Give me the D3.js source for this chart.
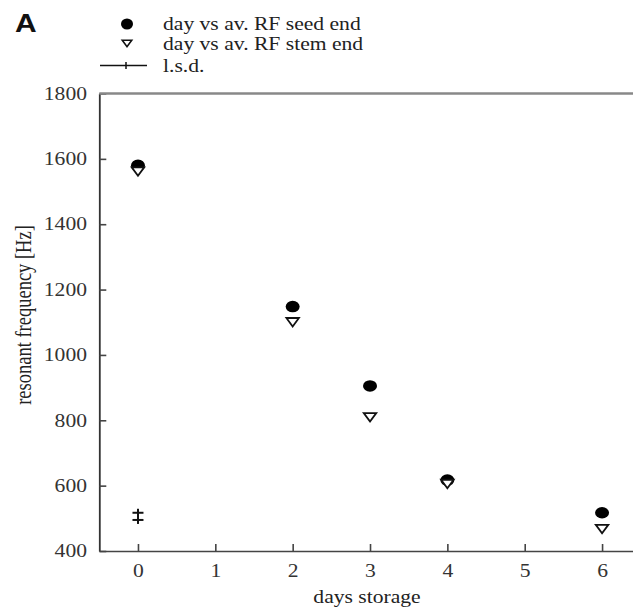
<!DOCTYPE html>
<html>
<head>
<meta charset="utf-8">
<script src="https://cdn.jsdelivr.net/npm/d3@7"></script>
<style>
  html, body { margin: 0; padding: 0; background: #fff; }
  svg { display: block; }
  text { font-family: "Liberation Serif", "Times New Roman", serif; fill: #222; }
</style>
</head>
<body>
<svg></svg>
<script>
// Data
const days = [0, 2, 3, 4, 6]
const seedEnd = [1580, 1148, 905, 617, 517]
const stemEnd = [1561, 1100, 809, 605, 467]
const lsdDay = [0]
const lsdValue = [506]
const lsdHalf = [11]
const xTicks = [0, 1, 2, 3, 4, 5, 6]
const yTicks = [400, 600, 800, 1000, 1200, 1400, 1600, 1800]
const legendLabels = ['day vs av. RF seed end', 'day vs av. RF stem end', 'l.s.d.']

// Initialization
const width = 633
const height = 611
const stretch = 'scale(1.2,1)' // the source picture is wider than tall
const serif = '"Liberation Serif", "Times New Roman", serif'

const svg = d3.select('svg').attr('width', width).attr('height', height)

const x = d3.scaleLinear().domain([-0.5, 6.4]).range([99.3, 633])
const y = d3.scaleLinear().domain([400, 1800]).range([551, 93.5])

// Axes
const xAxis = svg
  .append('g')
  .attr('transform', `translate(0,${y(400)})`)
  .call(
    d3
      .axisBottom(x)
      .tickValues(xTicks)
      .tickFormat(d3.format('d'))
      .tickSizeInner(-7)
      .tickSizeOuter(0)
      .tickPadding(13)
  )
xAxis.select('.domain').attr('stroke', '#444').attr('stroke-width', 1.6)
xAxis.selectAll('.tick line').attr('stroke', '#444').attr('stroke-width', 1.6)
xAxis
  .selectAll('.tick text')
  .attr('transform', stretch)
  .attr('x', 0)
  .style('font-family', serif)
  .style('font-size', '18px')
  .style('fill', '#333')

const yAxis = svg
  .append('g')
  .attr('transform', `translate(${x.range()[0]},0)`)
  .call(
    d3
      .axisLeft(y)
      .tickValues(yTicks)
      .tickFormat(d3.format('d'))
      .tickSizeInner(-7)
      .tickSizeOuter(0)
      .tickPadding(12)
  )
yAxis.select('.domain').attr('stroke', '#333').attr('stroke-width', 1.8)
yAxis.selectAll('.tick line').attr('stroke', '#444').attr('stroke-width', 1.6)
yAxis
  .selectAll('.tick text')
  .attr('transform', stretch)
  .attr('x', -12.3 / 1.2)
  .style('font-family', serif)
  .style('font-size', '18px')
  .style('fill', '#333')

// top frame line
svg
  .append('line')
  .attr('x1', x.range()[0])
  .attr('x2', x.range()[1])
  .attr('y1', y(1800))
  .attr('y2', y(1800))
  .attr('stroke', '#888')
  .attr('stroke-width', 2.4)

// Axis titles
svg
  .append('text')
  .attr('transform', `translate(367,603) ${stretch}`)
  .attr('text-anchor', 'middle')
  .attr('font-size', 18)
  .text('days storage')

svg
  .append('text')
  .attr('transform', `translate(31,315) ${stretch} rotate(-90)`)
  .attr('text-anchor', 'middle')
  .attr('font-size', 18.5)
  .text('resonant frequency [Hz]')

// Panel letter
svg
  .append('text')
  .attr('transform', `translate(15,32) ${stretch}`)
  .style('font-family', '"Liberation Sans", Arial, sans-serif')
  .style('font-weight', 'bold')
  .style('fill', '#111')
  .attr('font-size', 25)
  .text('A')

// Markers
const tri = (w, h) => `M${-w / 2},${-h / 2}L${w / 2},${-h / 2}L0,${h / 2}Z`

const points = days.map((d, i) => ({ day: d, seed: seedEnd[i], stem: stemEnd[i] }))

svg
  .append('g')
  .selectAll('ellipse')
  .data(points)
  .enter()
  .append('ellipse')
  .attr('cx', (d) => x(d.day))
  .attr('cy', (d) => y(d.seed))
  .attr('rx', 7)
  .attr('ry', 5.8)
  .attr('fill', '#000')

svg
  .append('g')
  .selectAll('path')
  .data(points)
  .enter()
  .append('path')
  .attr('transform', (d) => `translate(${x(d.day)},${y(d.stem)})`)
  .attr('d', tri(12.5, 8.5))
  .attr('fill', '#fff')
  .attr('stroke', '#111')
  .attr('stroke-width', 1.8)

// l.s.d. bar
const lsd = lsdDay.map((d, i) => ({ day: d, value: lsdValue[i], half: lsdHalf[i] }))
const lsdG = svg.append('g').attr('stroke', '#111').attr('stroke-width', 2)
lsd.forEach((d) => {
  const cx = x(d.day)
  const top = y(d.value + d.half)
  const bot = y(d.value - d.half)
  lsdG.append('line').attr('x1', cx).attr('x2', cx).attr('y1', top - 4).attr('y2', bot + 4)
  lsdG.append('line').attr('x1', cx - 5.5).attr('x2', cx + 5.5).attr('y1', top).attr('y2', top)
  lsdG.append('line').attr('x1', cx - 5.5).attr('x2', cx + 5.5).attr('y1', bot).attr('y2', bot)
})

// Legend
const legend = svg.append('g')
legend.append('ellipse').attr('cx', 127).attr('cy', 24).attr('rx', 6).attr('ry', 5.5).attr('fill', '#000')
legend
  .append('path')
  .attr('transform', 'translate(127,43.5)')
  .attr('d', tri(9.5, 6.5))
  .attr('fill', '#fff')
  .attr('stroke', '#111')
  .attr('stroke-width', 1.6)
legend.append('line').attr('x1', 100).attr('x2', 147).attr('y1', 65.5).attr('y2', 65.5).attr('stroke', '#111').attr('stroke-width', 1.5)
legend.append('line').attr('x1', 126).attr('x2', 126).attr('y1', 62).attr('y2', 69).attr('stroke', '#111').attr('stroke-width', 1.5)

const legendY = [30, 49.5, 71.5]
legendLabels.forEach((t, i) => {
  legend
    .append('text')
    .attr('transform', `translate(163,${legendY[i]}) ${stretch}`)
    .attr('font-size', 18)
    .text(t)
})
</script>
</body>
</html>
